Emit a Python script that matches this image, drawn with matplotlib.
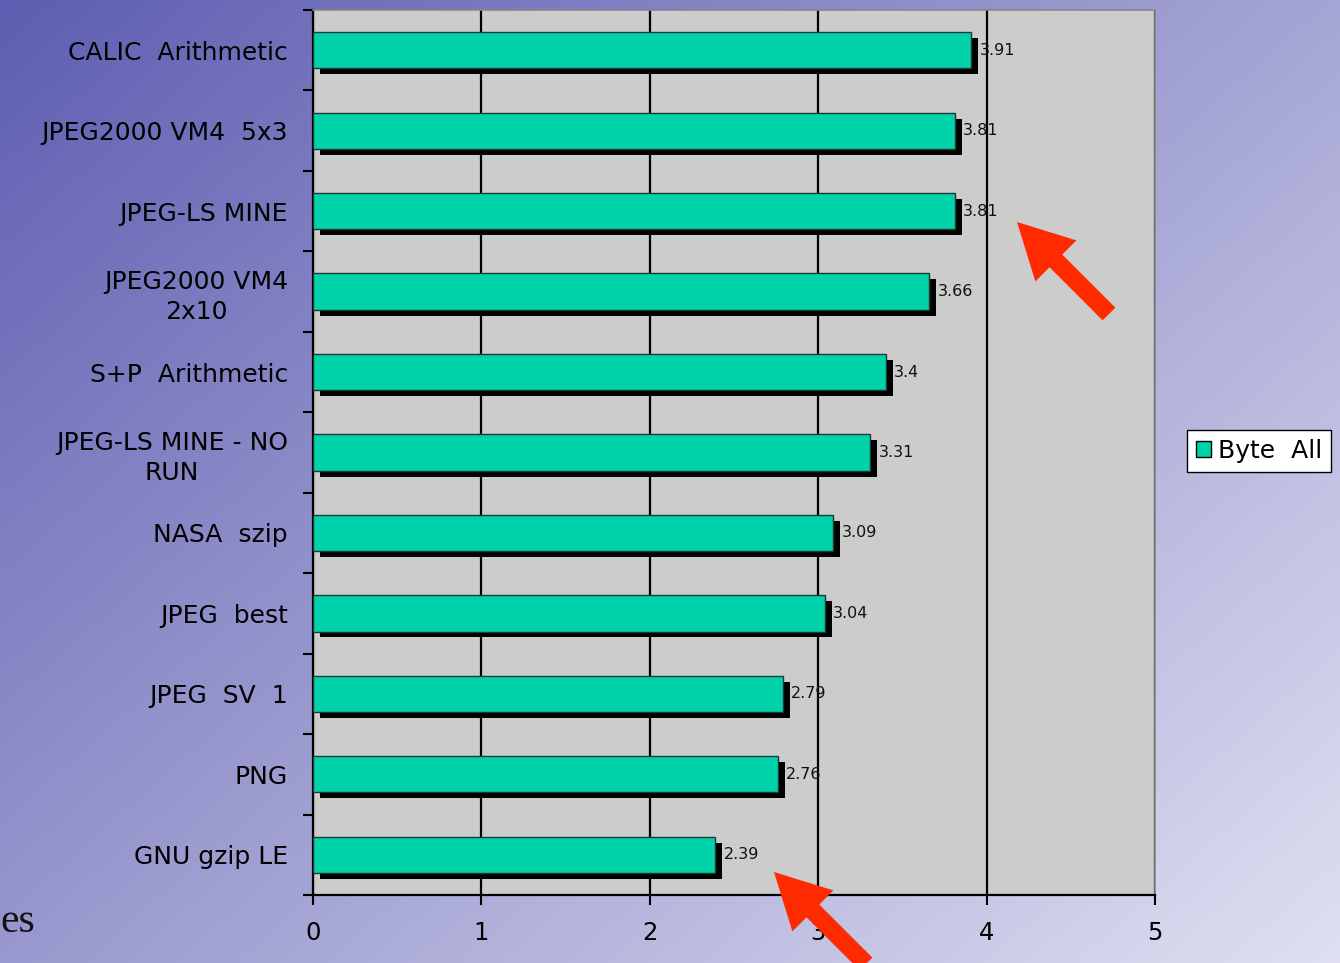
import numpy as np
import matplotlib.pyplot as plt
from matplotlib import patheffects as pe
from matplotlib.patches import FancyArrow, Patch

methods = ["CALIC  Arithmetic", "JPEG2000 VM4  5x3", "JPEG-LS MINE",
           "JPEG2000 VM4\n2x10", "S+P  Arithmetic", "JPEG-LS MINE - NO\nRUN",
           "NASA  szip", "JPEG  best", "JPEG  SV  1", "PNG", "GNU gzip LE"]
ratios = [3.91, 3.81, 3.81, 3.66, 3.4, 3.31, 3.09, 3.04, 2.79, 2.76, 2.39]
x_ticks = [0, 1, 2, 3, 4, 5]
series_name = "Byte  All"

W, H = 1340, 963
teal = "#00D2AA"
red = "#FF2A00"


def main():
    fig = plt.figure(figsize=(W / 100, H / 100), dpi=100)

    # slide background: diagonal blue-purple gradient
    yy, xx = np.mgrid[0:H, 0:W]
    t = (xx / W * 0.55 + yy / H * 0.45)
    c0 = np.array([94, 94, 178]) / 255
    c1 = np.array([224, 224, 242]) / 255
    bg = c0 + (c1 - c0) * t[..., None]
    fig.figimage(bg, xo=0, yo=0, origin="upper", zorder=-2)

    ax = fig.add_axes([313 / W, 1 - 895 / H, (1155 - 313) / W, (895 - 10) / H])
    ax.set_facecolor("#CCCCCC")

    y = np.arange(len(methods))
    bars = ax.barh(y, ratios, height=0.45, color=teal, edgecolor="#1E3A34",
                   linewidth=1.0, zorder=3)
    for b in bars:
        b.set_path_effects([pe.SimplePatchShadow(offset=(5, -4.3),
                                                 shadow_rgbFace="black", alpha=1),
                            pe.Normal()])
    ax.bar_label(bars, labels=[f"{v:g}" for v in ratios], padding=6,
                 fontsize=11.5, color="#111111", zorder=4)

    ax.set_xlim(0, 5)
    ax.set_ylim(len(methods) - 0.5, -0.5)
    ax.set_xticks(x_ticks)
    ax.set_xticklabels([str(v) for v in x_ticks], fontsize=17.5)
    ax.set_yticks(y)
    ax.set_yticklabels(methods, fontsize=18, multialignment="center",
                       linespacing=1.3)
    ax.set_yticks(np.arange(len(methods) + 1) - 0.5, minor=True)
    ax.tick_params(axis="y", which="major", length=0, pad=18)
    ax.tick_params(axis="y", which="minor", length=7, width=1.5, direction="out")
    ax.tick_params(axis="x", length=7, width=1.5, direction="out", pad=12)

    ax.xaxis.grid(True, color="black", linewidth=1.6)
    ax.set_axisbelow(True)
    for s in ["left", "bottom"]:
        ax.spines[s].set_linewidth(1.6)
        ax.spines[s].set_color("black")
    for s in ["top", "right"]:
        ax.spines[s].set_linewidth(1.2)
        ax.spines[s].set_color("#888888")

    fig.legend(handles=[Patch(facecolor=teal, edgecolor="black", label=series_name)],
               loc="center left", bbox_to_anchor=(1187 / W, 1 - 451 / H),
               fontsize=18, frameon=True, fancybox=False, edgecolor="black",
               framealpha=1, handlelength=0.6, handleheight=0.6,
               handletextpad=0.3, borderpad=0.35, borderaxespad=0)

    # red pointer arrows (pixel coords -> inches)
    for tip in [(1017, 222), (774, 872)]:
        tx, ty = tip[0] / 100, (H - tip[1]) / 100
        dx, dy = -0.92, 0.92
        fig.patches.append(FancyArrow(tx - dx, ty - dy, dx, dy, width=0.18,
                                      head_width=0.58, head_length=0.55,
                                      length_includes_head=True, color=red,
                                      linewidth=0, transform=fig.dpi_scale_trans,
                                      figure=fig))

    fig.text(0, 1 - 922 / H, "es", fontsize=30, family="Liberation Serif",
             va="center", ha="left", color="#111111")

    fig.savefig("out.png", dpi=100)


if __name__ == "__main__":
    main()
